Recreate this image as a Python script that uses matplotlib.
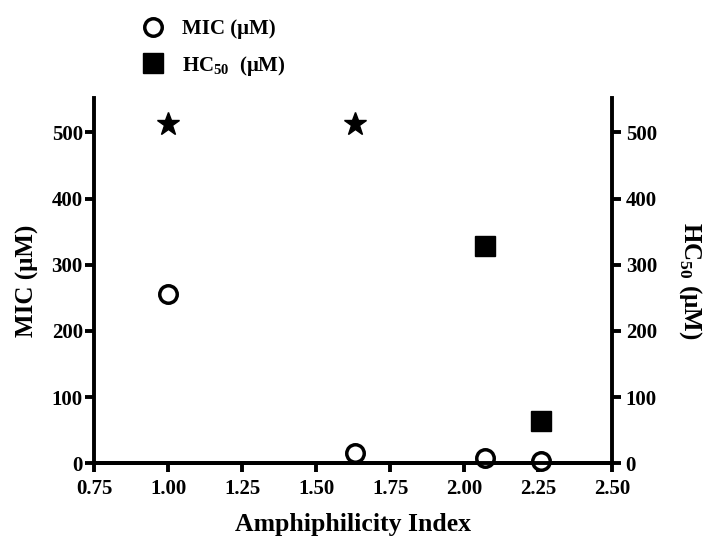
import matplotlib
matplotlib.use("Agg")
import matplotlib.pyplot as plt

plt.rcParams['font.family'] = ['Liberation Serif', 'DejaVu Serif']
plt.rcParams['font.weight'] = 'bold'
plt.rcParams['mathtext.fontset'] = 'custom'
plt.rcParams['mathtext.rm'] = 'Liberation Serif:bold'
plt.rcParams['mathtext.bf'] = 'Liberation Serif:bold'

# datos
indice_mic = [1.00, 1.63, 2.07, 2.26]
mic = [256, 16, 8, 4]
indice_hc = [2.07, 2.26]
hc50 = [328, 64]
indice_mayor = [1.00, 1.63]   # HC50 > 512
hc50_mayor = [512, 512]

xticks = [0.75, 1.00, 1.25, 1.50, 1.75, 2.00, 2.25, 2.50]
yticks = [0, 100, 200, 300, 400, 500]

fig = plt.figure(figsize=(7.04, 5.36), dpi=100)
ax = fig.add_axes([0.1335, 0.1356, 0.7365, 0.6817])
ax2 = ax.twinx()

lw = 2.8
for a in (ax, ax2):
    a.set_xlim(0.75, 2.50)
    a.set_ylim(0, 552)
    a.spines['top'].set_visible(False)
    for s in ('left', 'right', 'bottom'):
        a.spines[s].set_linewidth(lw)
    a.set_yticks(yticks)
    a.tick_params(width=lw, length=6.5, labelsize=15, pad=1.5)

ax.spines['right'].set_visible(False)
ax2.spines['left'].set_visible(False)
ax2.tick_params(axis='y', pad=3)
ax.set_xticks(xticks)
ax.set_xticklabels([f"{t:.2f}" for t in xticks])
ax.tick_params(axis='x', pad=5)

c1, = ax.plot(indice_mic, mic, 'o', ms=12.6, mfc='white', mec='black', mew=2.5,
              clip_on=False, zorder=5, label='MIC (μM)')
c2, = ax2.plot(indice_hc, hc50, 's', ms=14, color='black', clip_on=False,
               zorder=5, label='HC$_{50}$  (μM)')
ax2.plot(indice_mayor, hc50_mayor, '*', ms=17, color='black', clip_on=False,
         zorder=5)

ax.set_xlabel('Amphiphilicity Index', fontsize=18.5, fontweight='bold', labelpad=10)
ax.set_ylabel('MIC (μM)', fontsize=18, fontweight='bold', labelpad=9)
ax2.set_ylabel('HC$_{50}$ (μM)', fontsize=18, fontweight='bold', rotation=270,
               labelpad=34)

fig.legend(handles=[c1, c2], loc='upper left', bbox_to_anchor=(0.188, 0.98),
           frameon=False, fontsize=15, handlelength=1.2, handletextpad=0.8,
           labelspacing=0.7, borderaxespad=0)

fig.savefig('out.png', dpi=100)
